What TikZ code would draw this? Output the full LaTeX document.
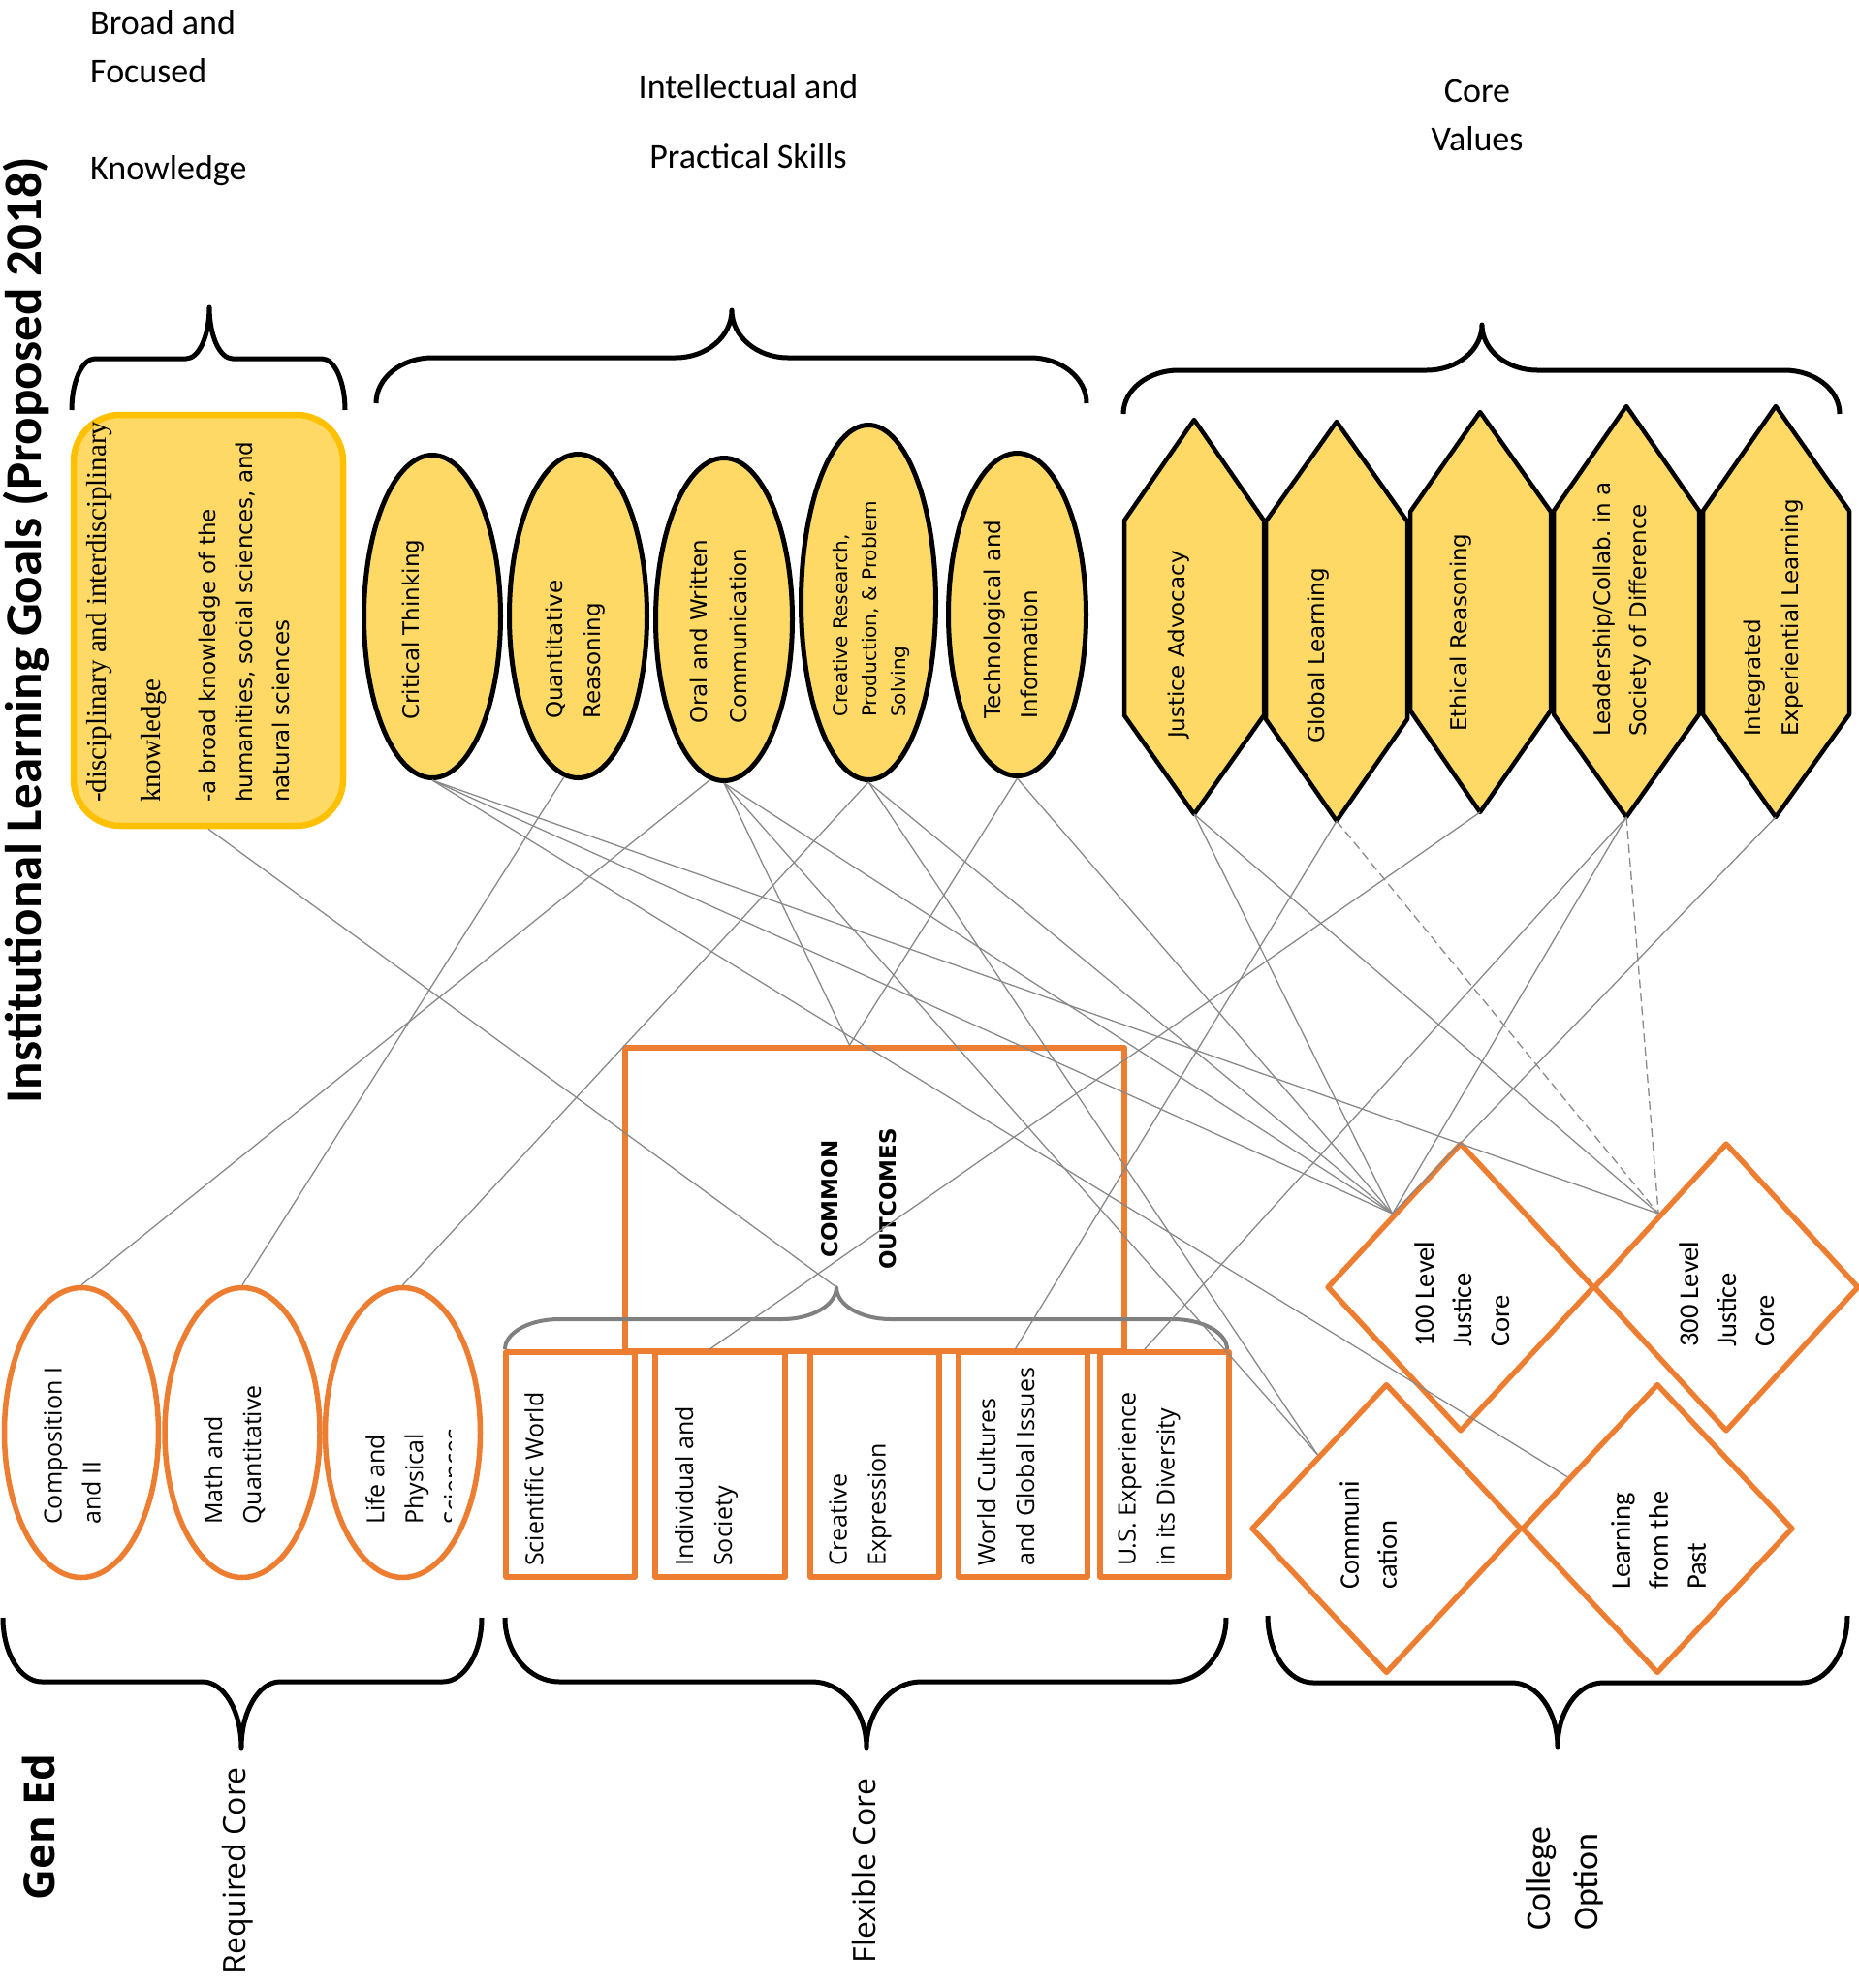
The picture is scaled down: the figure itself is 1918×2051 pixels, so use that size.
\documentclass[tikz,border=0pt]{standalone}
\usepackage{fontspec}
\setmainfont{Carlito}
\newfontfamily\dejavu{DejaVu Sans}
\newfontfamily\opensans{Open Sans}
\newfontfamily\timesfont{Liberation Serif}
\usepackage{tikz}
\usetikzlibrary{calc,shapes.geometric,positioning}
\definecolor{Gold}{RGB}{255,217,102}
\definecolor{GoldEdge}{RGB}{255,192,0}
\definecolor{GenOrange}{RGB}{237,125,49}
\definecolor{LinkGray}{RGB}{137,137,137}
\definecolor{BraceGray}{RGB}{128,128,128}

\newcommand{\headfont}{\fontsize{36}{50}\selectfont}
\newcommand{\goalfont}{\dejavu\fontsize{23}{39}\selectfont}
\newcommand{\flexfont}{\opensans\fontsize{25}{40}\selectfont}
\newcommand{\optionfont}{\fontsize{28.5}{39}\selectfont}

% curly brace: [style] x-left, x-right, x-tip, y-ends, y-middle, y-tip, radius
\newcommand{\curlybrace}[8][]{%
  \draw[#1] (#2,#5) .. controls (#2,{#5+0.552*(#6-#5)}) and ({#2+0.448*#8},#6) .. ({#2+#8},#6)
    -- ({#4-#8},#6) .. controls ({#4-0.448*#8},#6) and (#4,{#7+0.552*(#6-#7)}) .. (#4,#7)
    .. controls (#4,{#7+0.552*(#6-#7)}) and ({#4+0.448*#8},#6) .. ({#4+#8},#6)
    -- ({#3-#8},#6) .. controls ({#3-0.448*#8},#6) and (#3,{#5+0.552*(#6-#5)}) .. (#3,#5);}

\begin{document}
\begin{tikzpicture}[x=1pt, y=-1pt, line join=round,
	every node/.style={inner sep=0pt},
	goal/.style={ellipse, draw=black, line width=5pt, fill=Gold},
	core/.style={draw=black, line width=4.5pt, fill=Gold},
	gened/.style={draw=GenOrange, line width=5.5pt},
	option/.style={diamond, draw=GenOrange, line width=5.5pt},
	vtext/.style={rotate=90, anchor=north west, align=left},
	brace/.style={black, line width=5pt},
	link/.style={draw=LinkGray, line width=1.3pt},
	maybe/.style={link, dash pattern=on 9pt off 5pt}]
	\useasboundingbox (0,0) rectangle (1918,2051);

	%% Headings
	\node[rotate=90, font=\bfseries\fontsize{53}{60}\selectfont] (title) at (27,650) {Institutional Learning Goals (Proposed 2018)};
	\node[anchor=north west, align=left, font=\headfont] (know_head) at (93,10) {Broad and\\Focused\\[50pt]Knowledge};
	\node[anchor=north, align=center, font=\fontsize{36}{72}\selectfont] (skill_head) at (772,76) {Intellectual and\\Practical Skills};
	\node[anchor=north, align=center, font=\headfont] (value_head) at (1524,82) {Core\\Values};

	\curlybrace[brace]{74}{356}{216}{423}{370}{317}{24}
	\curlybrace[brace]{388}{1121}{755}{416}{369}{320}{58}
	\curlybrace[brace]{1159}{1898}{1529}{427}{382}{335}{57}

	%% Knowledge
	\node[draw=GoldEdge, fill=Gold, line width=6.5pt, rounded corners=48pt,
	      minimum width=278pt, minimum height=424pt] (knowbox) at (215,640) {};
	\node[vtext, font=\timesfont\fontsize{29}{56}\selectfont] (knowbox_a) at (89,828) {-disciplinary and interdisciplinary\\knowledge};
	\node[vtext, font=\dejavu\fontsize{23}{38}\selectfont] (knowbox_b) at (205,828) {-a broad knowledge of the\\humanities, social sciences, and\\natural sciences};

	%% Skills
	\node[goal, minimum width=141pt, minimum height=333pt] (e1) at (446,636) {};
	\node[goal, minimum width=142pt, minimum height=334pt] (e2) at (596.5,635.5) {};
	\node[goal, minimum width=141pt, minimum height=333pt] (e3) at (747,639) {};
	\node[goal, minimum width=139pt, minimum height=366pt] (e4) at (896,621.5) {};
	\node[goal, minimum width=142pt, minimum height=333pt] (e5) at (1049.5,634) {};
	\node[vtext, font=\goalfont] (e1_txt) at (415,743) {Critical Thinking};
	\node[vtext, font=\goalfont] (e2_txt) at (563,742) {Quantitative\\Reasoning};
	\node[vtext, font=\goalfont\fontsize{23}{41}\selectfont] (e3_txt) at (712,747) {Oral and Written\\Communication};
	\node[vtext, font=\dejavu\fontsize{20}{30}\selectfont] (e4_txt) at (859,740) {Creative Research,\\Production, \& Problem\\Solving};
	\node[vtext, font=\goalfont\fontsize{23}{38}\selectfont] (e5_txt) at (1015,742) {Technological and\\Information};

	%% Core values
	\draw[core] (1232,433) -- (1304,537) -- (1304,738) -- (1232,840) coordinate (justice) -- (1160,738) -- (1160,537) -- cycle;
	\draw[core] (1379,435) -- (1452,538) -- (1452,742) -- (1379,847) coordinate (global) -- (1306,742) -- (1306,538) -- cycle;
	\draw[core] (1527,425) -- (1600,528) -- (1600,733) -- (1527,838) coordinate (ethical) -- (1455,733) -- (1455,528) -- cycle;
	\draw[core] (1678,419) -- (1753,527) -- (1753,737) -- (1678,843) coordinate (leader) -- (1603,737) -- (1603,527) -- cycle;
	\draw[core] (1832,419) -- (1908,527) -- (1908,737) -- (1832,843) coordinate (integrated) -- (1757,737) -- (1757,527) -- cycle;
	\node[vtext, font=\goalfont] (h1_txt) at (1205,762) {Justice Advocacy};
	\node[vtext, font=\goalfont] (h2_txt) at (1349,767) {Global Learning};
	\node[vtext, font=\goalfont] (h3_txt) at (1496,755) {Ethical Reasoning};
	\node[vtext, font=\goalfont\fontsize{23}{37}\selectfont] (h4_txt) at (1644,760) {Leadership/Collab.\ in a\\Society of Difference};
	\node[vtext, font=\goalfont] (h5_txt) at (1799,760) {Integrated\\Experiential Learning};

	%% Required core
	\node[gened, ellipse, minimum width=159pt, minimum height=299pt] (c1) at (84,1478) {};
	\node[gened, ellipse, minimum width=160pt, minimum height=299pt] (c2) at (250,1478) {};
	\node[gened, ellipse, minimum width=160pt, minimum height=299pt] (c3) at (415.5,1478) {};
	\node[vtext, font=\flexfont] (c1_txt) at (45,1573) {Composition I\\and II};
	\node[vtext, font=\flexfont] (c2_txt) at (210,1573) {Math and\\Quantitative};
	\begin{scope}
		\clip (333,1330) rectangle (465,1625);
		\node[vtext, font=\flexfont] (c3_txt) at (377,1573) {Life and\\Physical\\Sciences};
	\end{scope}

	%% Flexible core
	\node[gened, minimum width=515pt, minimum height=313pt] (co) at (902.5,1237.5) {};
	\node[rotate=90, align=center, font=\dejavu\bfseries\fontsize{23}{60}\selectfont] (co_txt) at (886,1237) {COMMON\\OUTCOMES};
	\node[gened, minimum width=133pt, minimum height=232pt] (r1) at (588.5,1511) {};
	\node[gened, minimum width=134pt, minimum height=232pt] (r2) at (743,1511) {};
	\node[gened, minimum width=133pt, minimum height=232pt] (r3) at (902.5,1511) {};
	\node[gened, minimum width=133pt, minimum height=232pt] (r4) at (1055.5,1511) {};
	\node[gened, minimum width=133pt, minimum height=232pt] (r5) at (1201.5,1511) {};
	\node[vtext, font=\flexfont] (r1_txt) at (541,1616) {Scientific World};
	\node[vtext, font=\flexfont] (r2_txt) at (696,1616) {Individual and\\Society};
	\node[vtext, font=\flexfont] (r3_txt) at (855,1616) {Creative\\Expression};
	\node[vtext, font=\flexfont] (r4_txt) at (1008,1616) {World Cultures\\and Global Issues};
	\node[vtext, font=\flexfont] (r5_txt) at (1153,1616) {U.S. Experience\\in its Diversity};
	\curlybrace[BraceGray, line width=4pt]{521}{1266}{863}{1392}{1361}{1328}{56}
	\coordinate (co_tip) at (863,1328);

	%% College option
	\node[option, minimum width=276pt, minimum height=298pt] (d1) at (1507,1328) {};
	\node[option, minimum width=274pt, minimum height=298pt] (d2) at (1781,1328) {};
	\node[option, minimum width=279pt, minimum height=299pt] (d3) at (1430.5,1577) {};
	\node[option, minimum width=280pt, minimum height=299pt] (d4) at (1710,1577) {};
	\node[vtext, font=\optionfont] (d1_txt) at (1459,1390) {100 Level\\Justice\\Core};
	\node[vtext, font=\optionfont] (d2_txt) at (1732,1390) {300 Level\\Justice\\Core};
	\node[vtext, font=\optionfont] (d3_txt) at (1382,1640) {Communi\\cation};
	\node[vtext, font=\optionfont] (d4_txt) at (1662,1640) {Learning\\from the\\Past};

	%% Gen Ed labels
	\curlybrace[brace]{3}{497}{249}{1669}{1735}{1803}{40}
	\curlybrace[brace]{521}{1265}{894}{1669}{1735}{1803}{56}
	\curlybrace[brace]{1308}{1906}{1607}{1667}{1736}{1802}{47}
	\node[rotate=90, font=\opensans\bfseries\fontsize{44}{50}\selectfont] (gened) at (40,1885) {Gen Ed};
	\node[rotate=90, font=\opensans\fontsize{32}{40}\selectfont] (req_core) at (245,1930) {Required Core};
	\node[rotate=90, font=\opensans\fontsize{32}{40}\selectfont] (flex_core) at (891,1930) {Flexible Core};
	\node[vtext, font=\fontsize{36}{49}\selectfont] (coll_opt) at (1574,1992) {College\\Option};

	%% Links
	\coordinate (co_in) at ($(co.north west)!0.45!(co.north east)$);
	\coordinate (r2_in) at ($(r2.north west)!0.42!(r2.north east)$);
	\coordinate (r4_in) at ($(r4.north west)!0.44!(r4.north east)$);
	\coordinate (r5_in) at ($(r5.north west)!0.35!(r5.north east)$);
	\coordinate (d4_in) at ($(d4.west)!0.35!(d4.north)$);
	\draw[link] (knowbox.south) -- (co_tip);
	\draw[link] (e2.265) -- (c2.north);
	\draw[link] (e3.265) -- (c1.north);
	\draw[link] (e4.south) -- (c3.north);
	\draw[link] (e3.south) -- (co_in);
	\draw[link] (e5.south) -- (co_in);
	\draw[link] (e1.south) -- (d1.north west);
	\draw[link] (e1.south) -- (d2.north west);
	\draw[link] (e1.south) -- (d4_in);
	\draw[link] (e3.south) -- (d1.north west);
	\draw[link] (e3.south) -- (d3.north west);
	\draw[link] (e4.south) -- (d1.north west);
	\draw[link] (e4.south) -- (d3.north west);
	\draw[link] (e5.south) -- (d1.north west);
	\draw[link] (justice) -- (d1.north west);
	\draw[link] (justice) -- (d2.north west);
	\draw[link] (global) -- (r4_in);
	\draw[maybe] (global) -- (d2.north west);
	\draw[link] (ethical) -- (r2_in);
	\draw[link] (leader) -- (r5_in);
	\draw[link] (leader) -- (d1.north west);
	\draw[maybe] (leader) -- (d2.north west);
	\draw[link] (integrated) -- (d1.north west);
\end{tikzpicture}
\end{document}
